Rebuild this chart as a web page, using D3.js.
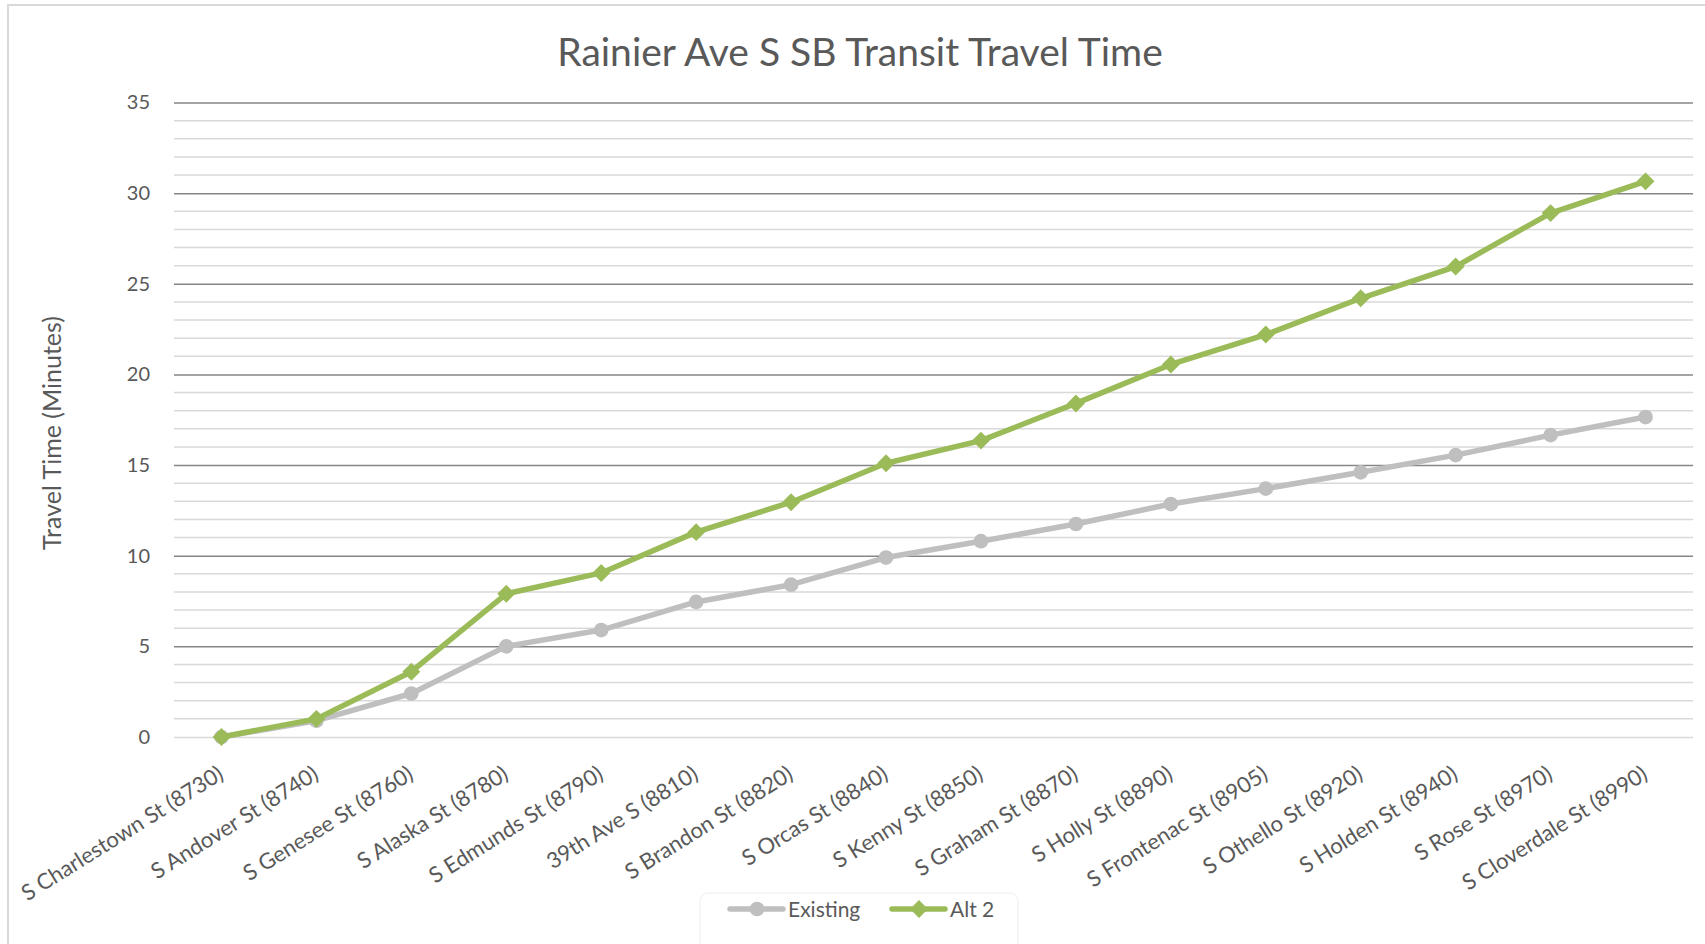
<!DOCTYPE html>
<html>
<head>
<meta charset="utf-8">
<script src="https://cdn.jsdelivr.net/npm/d3@7"></script>
<style>
  body { margin: 0; background: #fff; }
  text { font-family: Lato, "Open Sans", sans-serif; fill: #595959; }
</style>
</head>
<body>
<svg id="chart" width="1705" height="944"></svg>
<script>
var stops = ["S Charlestown St (8730)", "S Andover St (8740)", "S Genesee St (8760)",
             "S Alaska St (8780)", "S Edmunds St (8790)", "39th Ave S (8810)",
             "S Brandon St (8820)", "S Orcas St (8840)", "S Kenny St (8850)",
             "S Graham St (8870)", "S Holly St (8890)", "S Frontenac St (8905)",
             "S Othello St (8920)", "S Holden St (8940)", "S Rose St (8970)",
             "S Cloverdale St (8990)"];

var existing = [0, 0.9, 2.4, 5.0, 5.9, 7.45, 8.4, 9.9, 10.8, 11.75, 12.85, 13.7, 14.6, 15.55, 16.65, 17.65];
var alt2 = [0, 1.0, 3.6, 7.9, 9.05, 11.3, 12.95, 15.1, 16.35, 18.4, 20.55, 22.2, 24.2, 25.95, 28.9, 30.65];

var yTicks = [0, 5, 10, 15, 20, 25, 30, 35];

var svg = d3.select("#chart"),
    plotLeft = 174,
    plotRight = 1693,
    plotTop = 102.5,
    plotBottom = 737;

var xScale = d3.scalePoint().domain(stops).range([plotLeft, plotRight]).padding(0.5),
    yScale = d3.scaleLinear().domain([0, 35]).range([plotBottom, plotTop]);

// chart area border
svg.append("rect")
    .attr("x", 8).attr("y", 5)
    .attr("width", 1720).attr("height", 960)
    .attr("fill", "none")
    .attr("stroke", "#d9d9d9")
    .attr("stroke-width", 2);

svg.append("text")
    .attr("x", 860).attr("y", 66)
    .attr("text-anchor", "middle")
    .style("font-size", "39px")
    .text("Rainier Ave S SB Transit Travel Time");

// minor gridlines
svg.append("g")
    .selectAll("line")
    .data(d3.range(0, 36).filter(function(d) { return d % 5 != 0; }))
    .enter().append("line")
    .attr("x1", plotLeft).attr("x2", plotRight)
    .attr("y1", function(d) { return yScale(d); })
    .attr("y2", function(d) { return yScale(d); })
    .attr("stroke", "#d9d9d9")
    .attr("stroke-width", 1.5);

// major gridlines + labels
var yAxis = svg.append("g")
    .attr("transform", "translate(" + plotLeft + ",0)")
    .call(d3.axisLeft(yScale).tickValues(yTicks).tickSize(-(plotRight - plotLeft)).tickPadding(24));
yAxis.select(".domain").remove();
yAxis.selectAll(".tick line").attr("stroke", "#868686").attr("stroke-width", 1.5);
yAxis.selectAll(".tick text").style("font-size", "20px").attr("fill", "#595959");
yAxis.selectAll(".tick").filter(function(d) { return d === 0; }).select("line")
    .attr("stroke", "#d9d9d9");

var xAxis = svg.append("g")
    .attr("transform", "translate(0," + plotBottom + ")")
    .call(d3.axisBottom(xScale).tickSize(0).tickPadding(0));
xAxis.select(".domain").remove();
xAxis.selectAll(".tick text")
    .style("font-size", "22px")
    .attr("fill", "#595959")
    .attr("text-anchor", "end")
    .attr("dy", 0)
    .attr("y", 0)
    .attr("transform", "translate(3,41) rotate(-32)");

svg.append("text")
    .attr("transform", "translate(61,433) rotate(-90)")
    .attr("text-anchor", "middle")
    .style("font-size", "25px")
    .text("Travel Time (Minutes)");

var line = d3.line()
    .x(function(d, i) { return xScale(stops[i]); })
    .y(function(d) { return yScale(d); });

var diamond = d3.symbol().type(d3.symbolSquare).size(160);
var circle = d3.symbol().type(d3.symbolCircle).size(170);

svg.append("path").datum(existing)
    .attr("d", line).attr("fill", "none")
    .attr("stroke", "#bfbfbf").attr("stroke-width", 5.5).attr("stroke-linejoin", "round");
svg.selectAll(".pt-existing")
    .data(existing)
    .enter().append("path")
    .attr("class", "pt-existing")
    .attr("d", circle)
    .attr("fill", "#bfbfbf")
    .attr("transform", function(d, i) { return "translate(" + xScale(stops[i]) + "," + yScale(d) + ")"; });

svg.append("path").datum(alt2)
    .attr("d", line).attr("fill", "none")
    .attr("stroke", "#9bbb59").attr("stroke-width", 5.5).attr("stroke-linejoin", "round");
svg.selectAll(".pt-alt2")
    .data(alt2)
    .enter().append("path")
    .attr("class", "pt-alt2")
    .attr("d", diamond)
    .attr("fill", "#9bbb59")
    .attr("transform", function(d, i) { return "translate(" + xScale(stops[i]) + "," + yScale(d) + ") rotate(45)"; });

// legend
var legend = svg.append("g");
legend.append("rect")
    .attr("x", 700).attr("y", 893).attr("width", 318).attr("height", 70)
    .attr("rx", 8)
    .attr("fill", "none").attr("stroke", "#f4f4f4").attr("stroke-width", 1.5);

var items = [{name: "Existing", color: "#bfbfbf", sym: circle, rot: 0, x: 728},
             {name: "Alt 2", color: "#9bbb59", sym: diamond, rot: 45, x: 890}];
var item = legend.selectAll(".item").data(items).enter().append("g")
    .attr("transform", function(d) { return "translate(" + d.x + ",909)"; });
item.append("line")
    .attr("x1", 2).attr("x2", 55)
    .attr("stroke", function(d) { return d.color; })
    .attr("stroke-width", 5.5)
    .attr("stroke-linecap", "round");
item.append("path")
    .attr("d", function(d) { return d.sym(); })
    .attr("fill", function(d) { return d.color; })
    .attr("transform", function(d) { return "translate(29,0) rotate(" + d.rot + ")"; });
item.append("text")
    .attr("x", 60).attr("y", 8)
    .style("font-size", "21px")
    .text(function(d) { return d.name; });
</script>
</body>
</html>
